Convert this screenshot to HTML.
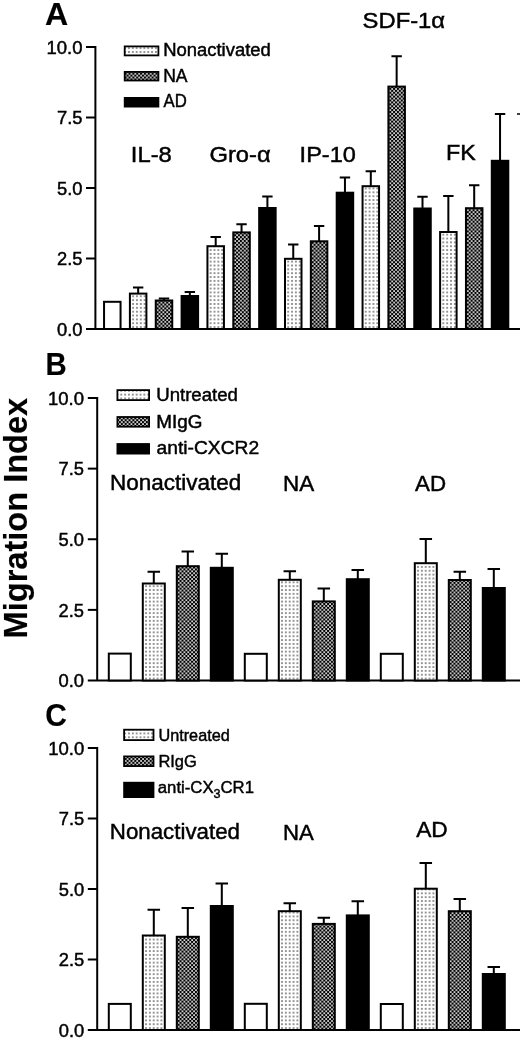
<!DOCTYPE html>
<html lang="en"><head><meta charset="utf-8"><title>Migration Index</title>
<style>
html,body{margin:0;padding:0;background:#fff}
body{width:520px;height:1039px;overflow:hidden}
svg{display:block}
text{font-family:"Liberation Sans",Arial,Helvetica,sans-serif;fill:#000;stroke:#000;stroke-width:0.45px}
</style></head><body>
<svg width="520" height="1039" viewBox="0 0 520 1039">
<defs>
<pattern id="pl" width="3.85" height="3.85" patternUnits="userSpaceOnUse"><rect width="3.85" height="3.85" fill="#fff"/><rect x="1.3" y="1.3" width="1.25" height="1.25" fill="#000"/></pattern>
<pattern id="pd" x="-0.45" y="-0.45" width="3.85" height="3.85" patternUnits="userSpaceOnUse"><rect width="3.85" height="3.85" fill="#000"/><rect x="0.2" y="0.2" width="1.65" height="1.65" fill="#fff"/><rect x="2.125" y="2.125" width="1.65" height="1.65" fill="#fff"/></pattern>
</defs>
<rect width="520" height="1039" fill="#fff"/>
<text transform="translate(27.2 638.4) rotate(-90)" font-size="33" font-weight="bold" style="stroke-width:0.15px" textLength="240.6" lengthAdjust="spacingAndGlyphs">Migration Index</text>
<text x="45.1" y="24.6" font-size="31.5" textLength="23.2" lengthAdjust="spacingAndGlyphs" font-weight="bold" style="stroke-width:0.15px">A</text>
<path d="M95.4 46.0V329.0M86.0 329.0H520" stroke="#000" stroke-width="2" fill="none"/>
<path d="M86.0 47.00H95.4" stroke="#000" stroke-width="2"/>
<text x="82.5" y="53.8" font-size="18" text-anchor="end" textLength="36" lengthAdjust="spacingAndGlyphs">10.0</text>
<path d="M86.0 117.50H95.4" stroke="#000" stroke-width="2"/>
<text x="82.5" y="124.3" font-size="18" text-anchor="end" textLength="25.5" lengthAdjust="spacingAndGlyphs">7.5</text>
<path d="M86.0 188.00H95.4" stroke="#000" stroke-width="2"/>
<text x="82.5" y="194.8" font-size="18" text-anchor="end" textLength="25.5" lengthAdjust="spacingAndGlyphs">5.0</text>
<path d="M86.0 258.50H95.4" stroke="#000" stroke-width="2"/>
<text x="82.5" y="265.3" font-size="18" text-anchor="end" textLength="25.5" lengthAdjust="spacingAndGlyphs">2.5</text>
<text x="82.5" y="335.8" font-size="18" text-anchor="end" textLength="25.5" lengthAdjust="spacingAndGlyphs">0.0</text>
<rect transform="translate(105.33 329.00)" x="-1.28" y="-27.20" width="16.50" height="27.20" fill="#fff" stroke="#000" stroke-width="2.0"/>
<path d="M138.15 293.60V287.60M132.95 287.60H143.35" stroke="#000" stroke-width="2.0" fill="none"/>
<rect transform="translate(131.18 329.00)" x="-1.28" y="-35.40" width="16.50" height="35.40" fill="url(#pl)" stroke="#000" stroke-width="2.0"/>
<path d="M164.00 300.50V298.60M158.80 298.60H169.20" stroke="#000" stroke-width="2.0" fill="none"/>
<rect transform="translate(157.03 329.00)" x="-1.28" y="-28.50" width="16.50" height="28.50" fill="url(#pd)" stroke="#000" stroke-width="2.0"/>
<path d="M189.85 296.00V292.00M184.65 292.00H195.05" stroke="#000" stroke-width="2.0" fill="none"/>
<rect transform="translate(182.88 329.00)" x="-1.28" y="-33.00" width="16.50" height="33.00" fill="#000" stroke="#000" stroke-width="2.0"/>
<path d="M215.70 246.20V237.00M210.50 237.00H220.90" stroke="#000" stroke-width="2.0" fill="none"/>
<rect transform="translate(208.72 329.00)" x="-1.28" y="-82.80" width="16.50" height="82.80" fill="url(#pl)" stroke="#000" stroke-width="2.0"/>
<path d="M241.55 232.40V224.30M236.35 224.30H246.75" stroke="#000" stroke-width="2.0" fill="none"/>
<rect transform="translate(234.58 329.00)" x="-1.28" y="-96.60" width="16.50" height="96.60" fill="url(#pd)" stroke="#000" stroke-width="2.0"/>
<path d="M267.40 208.00V196.60M262.20 196.60H272.60" stroke="#000" stroke-width="2.0" fill="none"/>
<rect transform="translate(260.43 329.00)" x="-1.27" y="-121.00" width="16.50" height="121.00" fill="#000" stroke="#000" stroke-width="2.0"/>
<path d="M293.25 258.80V244.60M288.05 244.60H298.45" stroke="#000" stroke-width="2.0" fill="none"/>
<rect transform="translate(286.27 329.00)" x="-1.27" y="-70.20" width="16.50" height="70.20" fill="url(#pl)" stroke="#000" stroke-width="2.0"/>
<path d="M319.10 241.30V226.00M313.90 226.00H324.30" stroke="#000" stroke-width="2.0" fill="none"/>
<rect transform="translate(312.12 329.00)" x="-1.27" y="-87.70" width="16.50" height="87.70" fill="url(#pd)" stroke="#000" stroke-width="2.0"/>
<path d="M344.95 192.70V177.50M339.75 177.50H350.15" stroke="#000" stroke-width="2.0" fill="none"/>
<rect transform="translate(337.97 329.00)" x="-1.27" y="-136.30" width="16.50" height="136.30" fill="#000" stroke="#000" stroke-width="2.0"/>
<path d="M370.80 186.20V171.20M365.60 171.20H376.00" stroke="#000" stroke-width="2.0" fill="none"/>
<rect transform="translate(363.82 329.00)" x="-1.27" y="-142.80" width="16.50" height="142.80" fill="url(#pl)" stroke="#000" stroke-width="2.0"/>
<path d="M396.65 86.60V56.20M391.45 56.20H401.85" stroke="#000" stroke-width="2.0" fill="none"/>
<rect transform="translate(389.68 329.00)" x="-1.27" y="-242.40" width="16.50" height="242.40" fill="url(#pd)" stroke="#000" stroke-width="2.0"/>
<path d="M422.50 208.50V196.70M417.30 196.70H427.70" stroke="#000" stroke-width="2.0" fill="none"/>
<rect transform="translate(415.53 329.00)" x="-1.27" y="-120.50" width="16.50" height="120.50" fill="#000" stroke="#000" stroke-width="2.0"/>
<path d="M448.35 232.00V196.00M443.15 196.00H453.55" stroke="#000" stroke-width="2.0" fill="none"/>
<rect transform="translate(441.38 329.00)" x="-1.27" y="-97.00" width="16.50" height="97.00" fill="url(#pl)" stroke="#000" stroke-width="2.0"/>
<path d="M474.20 208.20V185.30M469.00 185.30H479.40" stroke="#000" stroke-width="2.0" fill="none"/>
<rect transform="translate(467.23 329.00)" x="-1.27" y="-120.80" width="16.50" height="120.80" fill="url(#pd)" stroke="#000" stroke-width="2.0"/>
<path d="M500.05 160.80V114.00M494.85 114.00H505.25" stroke="#000" stroke-width="2.0" fill="none"/>
<rect transform="translate(493.07 329.00)" x="-1.27" y="-168.20" width="16.50" height="168.20" fill="#000" stroke="#000" stroke-width="2.0"/>
<path d="M517 114H520" stroke="#000" stroke-width="1.5"/>
<rect x="124.70" y="46.40" width="33.70" height="9.00" fill="url(#pl)" stroke="#000" stroke-width="1.8"/>
<rect x="124.70" y="71.90" width="33.70" height="8.60" fill="url(#pd)" stroke="#000" stroke-width="1.8"/>
<rect x="124.70" y="97.90" width="33.70" height="8.70" fill="#000" stroke="#000" stroke-width="1.8"/>
<text x="163.2" y="56.2" font-size="17.5" textLength="107.6" lengthAdjust="spacingAndGlyphs">Nonactivated</text>
<text x="163.2" y="81.5" font-size="17.5">NA</text>
<text x="163.6" y="106.8" font-size="17.5" textLength="23.2" lengthAdjust="spacingAndGlyphs">AD</text>
<text x="130.8" y="161.8" font-size="21.5" textLength="41" lengthAdjust="spacingAndGlyphs">IL-8</text>
<text x="209.5" y="162" font-size="21.5" textLength="61.2" lengthAdjust="spacingAndGlyphs">Gro-α</text>
<text x="299.6" y="162.3" font-size="21.5" textLength="56.2" lengthAdjust="spacingAndGlyphs">IP-10</text>
<text x="362.6" y="28.3" font-size="21.5" textLength="82.5" lengthAdjust="spacingAndGlyphs">SDF-1α</text>
<text x="446.1" y="159.6" font-size="21.5" textLength="29.8" lengthAdjust="spacingAndGlyphs">FK</text>
<text x="45.6" y="375" font-size="31" textLength="21.2" lengthAdjust="spacingAndGlyphs" font-weight="bold" style="stroke-width:0.15px">B</text>
<path d="M97.2 397.0V680.5M87.8 680.5H520" stroke="#000" stroke-width="2" fill="none"/>
<path d="M87.8 398.00H97.2" stroke="#000" stroke-width="2"/>
<text x="84" y="404.8" font-size="18" text-anchor="end" textLength="36" lengthAdjust="spacingAndGlyphs">10.0</text>
<path d="M87.8 468.62H97.2" stroke="#000" stroke-width="2"/>
<text x="84" y="475.4" font-size="18" text-anchor="end" textLength="25.5" lengthAdjust="spacingAndGlyphs">7.5</text>
<path d="M87.8 539.25H97.2" stroke="#000" stroke-width="2"/>
<text x="84" y="546.0" font-size="18" text-anchor="end" textLength="25.5" lengthAdjust="spacingAndGlyphs">5.0</text>
<path d="M87.8 609.88H97.2" stroke="#000" stroke-width="2"/>
<text x="84" y="616.7" font-size="18" text-anchor="end" textLength="25.5" lengthAdjust="spacingAndGlyphs">2.5</text>
<text x="84" y="687.3" font-size="18" text-anchor="end" textLength="25.5" lengthAdjust="spacingAndGlyphs">0.0</text>
<rect transform="translate(110.08 680.50)" x="-1.28" y="-26.90" width="22.00" height="26.90" fill="#fff" stroke="#000" stroke-width="2.0"/>
<path d="M153.80 583.50V571.70M147.55 571.70H160.05" stroke="#000" stroke-width="2.0" fill="none"/>
<rect transform="translate(144.08 680.50)" x="-1.28" y="-97.00" width="22.00" height="97.00" fill="url(#pl)" stroke="#000" stroke-width="2.0"/>
<path d="M187.80 566.20V551.40M181.55 551.40H194.05" stroke="#000" stroke-width="2.0" fill="none"/>
<rect transform="translate(178.08 680.50)" x="-1.28" y="-114.30" width="22.00" height="114.30" fill="url(#pd)" stroke="#000" stroke-width="2.0"/>
<path d="M221.80 567.80V553.70M215.55 553.70H228.05" stroke="#000" stroke-width="2.0" fill="none"/>
<rect transform="translate(212.08 680.50)" x="-1.28" y="-112.70" width="22.00" height="112.70" fill="#000" stroke="#000" stroke-width="2.0"/>
<rect transform="translate(246.08 680.50)" x="-1.28" y="-26.70" width="22.00" height="26.70" fill="#fff" stroke="#000" stroke-width="2.0"/>
<path d="M289.80 579.80V571.30M283.55 571.30H296.05" stroke="#000" stroke-width="2.0" fill="none"/>
<rect transform="translate(280.07 680.50)" x="-1.27" y="-100.70" width="22.00" height="100.70" fill="url(#pl)" stroke="#000" stroke-width="2.0"/>
<path d="M323.80 601.40V588.60M317.55 588.60H330.05" stroke="#000" stroke-width="2.0" fill="none"/>
<rect transform="translate(314.07 680.50)" x="-1.27" y="-79.10" width="22.00" height="79.10" fill="url(#pd)" stroke="#000" stroke-width="2.0"/>
<path d="M357.80 579.20V570.00M351.55 570.00H364.05" stroke="#000" stroke-width="2.0" fill="none"/>
<rect transform="translate(348.07 680.50)" x="-1.27" y="-101.30" width="22.00" height="101.30" fill="#000" stroke="#000" stroke-width="2.0"/>
<rect transform="translate(382.07 680.50)" x="-1.27" y="-26.70" width="22.00" height="26.70" fill="#fff" stroke="#000" stroke-width="2.0"/>
<path d="M425.80 563.20V539.00M419.55 539.00H432.05" stroke="#000" stroke-width="2.0" fill="none"/>
<rect transform="translate(416.07 680.50)" x="-1.27" y="-117.30" width="22.00" height="117.30" fill="url(#pl)" stroke="#000" stroke-width="2.0"/>
<path d="M459.80 580.00V571.70M453.55 571.70H466.05" stroke="#000" stroke-width="2.0" fill="none"/>
<rect transform="translate(450.07 680.50)" x="-1.27" y="-100.50" width="22.00" height="100.50" fill="url(#pd)" stroke="#000" stroke-width="2.0"/>
<path d="M493.80 588.00V569.00M487.55 569.00H500.05" stroke="#000" stroke-width="2.0" fill="none"/>
<rect transform="translate(484.07 680.50)" x="-1.27" y="-92.50" width="22.00" height="92.50" fill="#000" stroke="#000" stroke-width="2.0"/>
<rect x="117.40" y="390.10" width="31.70" height="10.00" fill="url(#pl)" stroke="#000" stroke-width="1.8"/>
<rect x="117.40" y="417.00" width="31.70" height="9.70" fill="url(#pd)" stroke="#000" stroke-width="1.8"/>
<rect x="117.40" y="444.00" width="31.70" height="9.60" fill="#000" stroke="#000" stroke-width="1.8"/>
<text x="156.2" y="400.8" font-size="18" textLength="81.8" lengthAdjust="spacingAndGlyphs">Untreated</text>
<text x="156.2" y="427.7" font-size="18" textLength="46.2" lengthAdjust="spacingAndGlyphs">MIgG</text>
<text x="156.5" y="453.8" font-size="18" textLength="102.6" lengthAdjust="spacingAndGlyphs">anti-CXCR2</text>
<text x="110" y="490" font-size="21.5" textLength="131.2" lengthAdjust="spacingAndGlyphs">Nonactivated</text>
<text x="283" y="491" font-size="21.5" textLength="31.2" lengthAdjust="spacingAndGlyphs">NA</text>
<text x="415" y="491" font-size="21.5" textLength="31" lengthAdjust="spacingAndGlyphs">AD</text>
<text x="45.2" y="726.3" font-size="31" textLength="21.6" lengthAdjust="spacingAndGlyphs" font-weight="bold" style="stroke-width:0.15px">C</text>
<path d="M97.2 747.0V1030.0M87.8 1030.0H520" stroke="#000" stroke-width="2" fill="none"/>
<path d="M87.8 748.00H97.2" stroke="#000" stroke-width="2"/>
<text x="84.2" y="754.8" font-size="18" text-anchor="end" textLength="36" lengthAdjust="spacingAndGlyphs">10.0</text>
<path d="M87.8 818.50H97.2" stroke="#000" stroke-width="2"/>
<text x="84.2" y="825.3" font-size="18" text-anchor="end" textLength="25.5" lengthAdjust="spacingAndGlyphs">7.5</text>
<path d="M87.8 889.00H97.2" stroke="#000" stroke-width="2"/>
<text x="84.2" y="895.8" font-size="18" text-anchor="end" textLength="25.5" lengthAdjust="spacingAndGlyphs">5.0</text>
<path d="M87.8 959.50H97.2" stroke="#000" stroke-width="2"/>
<text x="84.2" y="966.3" font-size="18" text-anchor="end" textLength="25.5" lengthAdjust="spacingAndGlyphs">2.5</text>
<text x="84.2" y="1036.8" font-size="18" text-anchor="end" textLength="25.5" lengthAdjust="spacingAndGlyphs">0.0</text>
<rect transform="translate(110.08 1030.00)" x="-1.28" y="-26.10" width="22.00" height="26.10" fill="#fff" stroke="#000" stroke-width="2.0"/>
<path d="M153.80 935.50V909.70M147.55 909.70H160.05" stroke="#000" stroke-width="2.0" fill="none"/>
<rect transform="translate(144.08 1030.00)" x="-1.28" y="-94.50" width="22.00" height="94.50" fill="url(#pl)" stroke="#000" stroke-width="2.0"/>
<path d="M187.80 936.80V908.00M181.55 908.00H194.05" stroke="#000" stroke-width="2.0" fill="none"/>
<rect transform="translate(178.08 1030.00)" x="-1.28" y="-93.20" width="22.00" height="93.20" fill="url(#pd)" stroke="#000" stroke-width="2.0"/>
<path d="M221.80 906.00V883.50M215.55 883.50H228.05" stroke="#000" stroke-width="2.0" fill="none"/>
<rect transform="translate(212.08 1030.00)" x="-1.28" y="-124.00" width="22.00" height="124.00" fill="#000" stroke="#000" stroke-width="2.0"/>
<rect transform="translate(246.08 1030.00)" x="-1.28" y="-26.20" width="22.00" height="26.20" fill="#fff" stroke="#000" stroke-width="2.0"/>
<path d="M289.80 911.20V903.30M283.55 903.30H296.05" stroke="#000" stroke-width="2.0" fill="none"/>
<rect transform="translate(280.07 1030.00)" x="-1.27" y="-118.80" width="22.00" height="118.80" fill="url(#pl)" stroke="#000" stroke-width="2.0"/>
<path d="M323.80 923.90V917.70M317.55 917.70H330.05" stroke="#000" stroke-width="2.0" fill="none"/>
<rect transform="translate(314.07 1030.00)" x="-1.27" y="-106.10" width="22.00" height="106.10" fill="url(#pd)" stroke="#000" stroke-width="2.0"/>
<path d="M357.80 915.40V901.30M351.55 901.30H364.05" stroke="#000" stroke-width="2.0" fill="none"/>
<rect transform="translate(348.07 1030.00)" x="-1.27" y="-114.60" width="22.00" height="114.60" fill="#000" stroke="#000" stroke-width="2.0"/>
<rect transform="translate(382.07 1030.00)" x="-1.27" y="-26.00" width="22.00" height="26.00" fill="#fff" stroke="#000" stroke-width="2.0"/>
<path d="M425.80 888.70V863.00M419.55 863.00H432.05" stroke="#000" stroke-width="2.0" fill="none"/>
<rect transform="translate(416.07 1030.00)" x="-1.27" y="-141.30" width="22.00" height="141.30" fill="url(#pl)" stroke="#000" stroke-width="2.0"/>
<path d="M459.80 911.20V899.00M453.55 899.00H466.05" stroke="#000" stroke-width="2.0" fill="none"/>
<rect transform="translate(450.07 1030.00)" x="-1.27" y="-118.80" width="22.00" height="118.80" fill="url(#pd)" stroke="#000" stroke-width="2.0"/>
<path d="M493.80 974.00V967.00M487.55 967.00H500.05" stroke="#000" stroke-width="2.0" fill="none"/>
<rect transform="translate(484.07 1030.00)" x="-1.27" y="-56.00" width="22.00" height="56.00" fill="#000" stroke="#000" stroke-width="2.0"/>
<rect x="124.10" y="729.70" width="29.40" height="10.40" fill="url(#pl)" stroke="#000" stroke-width="1.8"/>
<rect x="124.10" y="756.40" width="29.40" height="9.70" fill="url(#pd)" stroke="#000" stroke-width="1.8"/>
<rect x="124.10" y="782.70" width="29.40" height="14.40" fill="#000" stroke="#000" stroke-width="1.8"/>
<text x="158.4" y="741" font-size="17" textLength="71.4" lengthAdjust="spacingAndGlyphs">Untreated</text>
<text x="158.4" y="767" font-size="17" textLength="38.4" lengthAdjust="spacingAndGlyphs">RIgG</text>
<text x="157.8" y="793" font-size="17.3" textLength="96.2" lengthAdjust="spacingAndGlyphs">anti-CX<tspan font-size="13" dy="5.2">3</tspan><tspan dy="-5.2">CR1</tspan></text>
<text x="109.8" y="839" font-size="21.5" textLength="130.2" lengthAdjust="spacingAndGlyphs">Nonactivated</text>
<text x="283" y="839.6" font-size="21.5" textLength="30.8" lengthAdjust="spacingAndGlyphs">NA</text>
<text x="416.2" y="837" font-size="21.5" textLength="31.6" lengthAdjust="spacingAndGlyphs">AD</text>
</svg></body></html>
